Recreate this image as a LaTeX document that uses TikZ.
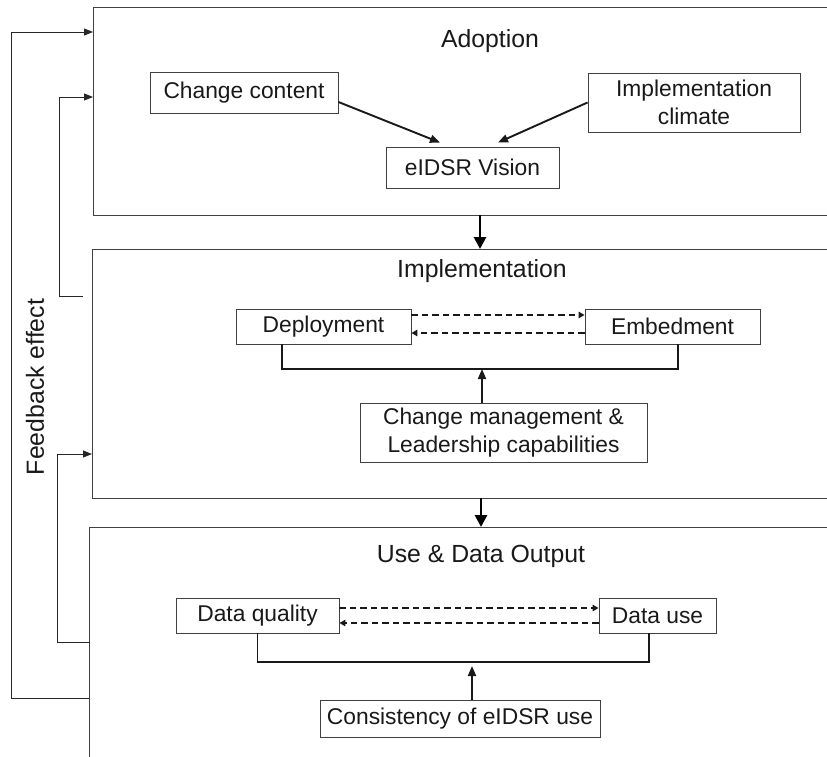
\documentclass[tikz,border=0pt]{standalone}
\usepackage{fontspec}
\setmainfont{Liberation Sans}
\usetikzlibrary{arrows.meta,calc}
\begin{document}
\begin{tikzpicture}[x=1pt,y=-1pt,
  box/.style={draw=black!75, line width=0.9pt, inner sep=0pt, align=center,
    font=\fontsize{22.8}{27.5}\selectfont, text=black!90},
  panel/.style={draw=none, inner sep=0pt, anchor=north west},
  panelline/.style={draw=black!75, line width=0.9pt},
  ptitle/.style={font=\fontsize{24.8}{29}\selectfont, text=black!90},
  bigarrow/.style={line width=2.8pt, -{Triangle[length=12pt,width=12pt]}},
  infarrow/.style={line width=1.9pt, black!90, -{Triangle[length=10pt,width=8pt]}},
  dasharrow/.style={line width=1.9pt, black!90, dash pattern=on 6.5pt off 4pt, -{Triangle[length=6pt,width=6.5pt]}},
  bracket/.style={line width=1.9pt, black!90},
  fb/.style={line width=0.9pt, black!85},
  fbarrow/.style={line width=0.9pt, black!85, -{Triangle[length=9pt,width=7pt]}}]
\useasboundingbox (0,0) rectangle (827,757);
\begin{scope}
\clip (0,0) rectangle (827,757);
% panels
\node[panel, minimum width=760pt, minimum height=208pt] (p1) at (93,7) {};
\node[panel, minimum width=760pt, minimum height=249pt] (p2) at (92,249) {};
\node[panel, minimum width=760pt, minimum height=260pt] (p3) at (89,527) {};
\draw[panelline] (p1.north east) -- (p1.north west) -- (p1.south west) -- (p1.south east);
\draw[panelline] (p2.north east) -- (p2.north west) -- (p2.south west) -- (p2.south east);
\draw[panelline] (p3.north east) -- (p3.north west) -- (p3.south west) -- (p3.south east);
% titles
\node[ptitle] (t1) at (490,41) {Adoption};
\node[ptitle] (t2) at (482,271) {Implementation};
\node[ptitle] (t3) at (481,556) {Use \& Data Output};
% adoption
\node[box, minimum width=188pt, minimum height=41pt] (cc) at (244,92.5) {Change content};
\node[box, minimum width=173pt, minimum height=41pt] (ev) at (472.5,167.5) {eIDSR Vision};
\node[box, minimum width=212pt, minimum height=59pt] (ic) at (694,102.5) {Implementation\\climate};
\draw[infarrow] ($(cc.east)+(0,9.5)$) -- ($(ev.north)+(-32.5,-4)$);
\draw[infarrow] (ic.west) -- ($(ev.north)+(25.5,-4)$);
% implementation
\node[box, minimum width=175pt, minimum height=35pt] (dep) at (323.5,326.5) {Deployment};
\node[box, minimum width=175pt, minimum height=35pt] (emb) at (672.5,326.5) {Embedment};
\node[box, minimum width=287pt, minimum height=59pt] (cm) at (503.5,432.5) {Change management \&\\Leadership capabilities};
\draw[dasharrow] ($(dep.east)+(0,-11.5)$) -- ($(emb.west)+(0,-11.5)$);
\draw[dasharrow] ($(emb.west)+(0,6.5)$) -- ($(dep.east)+(0,6.5)$);
\coordinate (b2) at (482,369);
\draw[bracket] ($(dep.south)+(-41.5,0)$) |- (b2) -| ($(emb.south)+(5.5,0)$);
\draw[infarrow] ($(cm.north)+(-21.5,0)$) -- (b2);
% use and data output
\node[box, minimum width=163pt, minimum height=35pt] (dq) at (257.5,615.5) {Data quality};
\node[box, minimum width=117pt, minimum height=35pt] (du) at (657.5,615.5) {Data use};
\node[box, minimum width=280pt, minimum height=37pt] (cons) at (460,718.5) {Consistency of eIDSR use};
\draw[dasharrow] ($(dq.east)+(0,-7.5)$) -- ($(du.west)+(0,-7.5)$);
\draw[dasharrow] ($(du.west)+(0,7.5)$) -- ($(dq.east)+(0,7.5)$);
\coordinate (b3) at (472,662);
\draw[bracket] (dq.south) |- (b3) -| ($(du.south)+(-8.5,0)$);
\draw[infarrow] ($(cons.north)+(12,0)$) -- ($(b3)+(0,4)$);
% arrows between panels
\draw[bigarrow] ($(p1.south west)+(387,0)$) -- ($(p2.north west)+(388,0)$);
\draw[bigarrow] ($(p2.south west)+(389,0)$) -- ($(p3.north west)+(392,0)$);
% feedback lines
\coordinate (fo1) at ($(p3.north west)+(0,171)$);
\coordinate (fo2) at ($(p1.north west)+(0,25)$);
\draw[fbarrow] (fo1) -- (11,698) -- (11,32) -- (fo2);
\coordinate (fa1) at ($(p2.north west)+(-9,47)$);
\coordinate (fa2) at ($(p1.north west)+(0,90)$);
\draw[fbarrow] (fa1) -- (59,296) -- (59,97) -- (fa2);
\coordinate (fc1) at ($(p3.north west)+(1,115)$);
\coordinate (fc2) at ($(p2.north west)+(0,205)$);
\draw[fbarrow] (fc1) -- (57,642) -- (57,454) -- (fc2);
\node[ptitle, rotate=90] (fbt) at (35,387) {Feedback effect};
\end{scope}
\end{tikzpicture}
\end{document}
